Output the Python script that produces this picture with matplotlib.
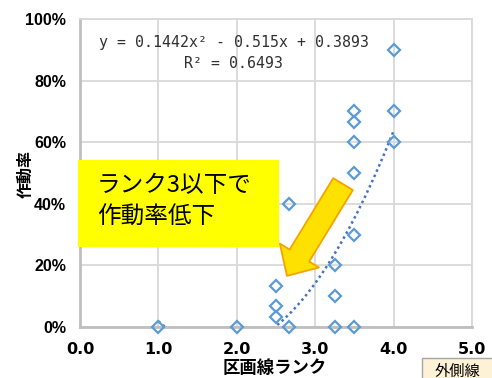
import matplotlib
matplotlib.use('Agg')
import matplotlib.pyplot as plt
import numpy as np
from matplotlib.patches import Rectangle
from matplotlib.ticker import FuncFormatter

# 区画線ランク vs 作動率
rank = [1.0, 2.0, 2.5, 2.5, 2.5, 2.67, 2.67, 3.25, 3.25, 3.25,
        3.5, 3.5, 3.5, 3.5, 3.5, 3.5, 4.0, 4.0, 4.0]
rate = [0.0, 0.0, 0.033, 0.067, 0.133, 0.0, 0.40, 0.0, 0.10, 0.20,
        0.0, 0.30, 0.50, 0.60, 0.667, 0.70, 0.60, 0.70, 0.90]

# Excel 2次近似
coef = [0.1442, -0.515, 0.3893]
r2 = 0.6493

xticks = [0, 1, 2, 3, 4, 5]
yticks = [0, 0.2, 0.4, 0.6, 0.8, 1.0]

jp = ['Noto Sans CJK JP', 'DejaVu Sans']

W, H = 492, 378
fig = plt.figure(figsize=(W / 100, H / 100), dpi=100)
ax = fig.add_axes([80 / W, 1 - 327 / H, (472 - 80) / W, (327 - 19) / H])

ax.set_xlim(0, 5)
ax.set_ylim(0, 1)
ax.set_xticks(xticks)
ax.set_yticks(yticks)
ax.xaxis.set_major_formatter(FuncFormatter(lambda v, p: '%.1f' % v))
ax.yaxis.set_major_formatter(FuncFormatter(lambda v, p: '%d%%' % round(v * 100)))
ax.tick_params(length=0)
ax.tick_params(axis='x', pad=11)
ax.tick_params(axis='y', pad=10)
for lab in ax.get_xticklabels():
    lab.set_fontweight('bold')
    lab.set_fontsize(11.5)
for lab in ax.get_yticklabels():
    lab.set_fontweight('bold')
    lab.set_fontsize(11.5)
    lab.set_family('Liberation Sans')

ax.grid(True, color='#D9D9D9', lw=1.3)
ax.set_axisbelow(True)
for s in ['top', 'right']:
    ax.spines[s].set_color('#D9D9D9')
    ax.spines[s].set_linewidth(1.3)
for s in ['left', 'bottom']:
    ax.spines[s].set_color('#BFBFBF')
    ax.spines[s].set_linewidth(2)

# 近似曲線 (データ範囲)
xs = np.linspace(min(rank), max(rank), 200)
ax.plot(xs, np.polyval(coef, xs), color='#4472C4', lw=1.8,
        linestyle=(0, (1, 1.3)), zorder=2)

ax.plot(rank, rate, linestyle='none', marker='D', ms=6.6, mfc='none',
        mec='#5B9BD5', mew=1.6, zorder=3, clip_on=False)

eq = 'y = %.4fx² - %.3fx + %.4f' % (coef[0], -coef[1], coef[2])
fig.text(234 / W, 1 - 42 / H, eq, ha='center', va='center',
         family='DejaVu Sans Mono', fontsize=10.7, color='#303030')
fig.text(234 / W, 1 - 63 / H, 'R² = %.4f' % r2, ha='center', va='center',
         family='DejaVu Sans Mono', fontsize=10.7, color='#303030')

ax.set_xlabel('区画線ランク', family=jp, fontweight='bold', fontsize=12.5)
ax.xaxis.set_label_coords(275 / W, 1 - 359 / H, transform=fig.transFigure)
ax.set_ylabel('作動率', family=jp, fontweight='bold', fontsize=11.5)
ax.yaxis.set_label_coords(34 / W, 1 - 174 / H, transform=fig.transFigure)

# 注記ボックス
fig.patches.append(Rectangle((78 / W, 1 - 247 / H), (279 - 78) / W, (247 - 160) / H,
                             transform=fig.transFigure, fc='#FFFF00', ec='none', zorder=5))
fig.text(97 / W, 1 - 186 / H, 'ランク3以下で', family=jp, fontsize=17,
         va='center', ha='left', zorder=6)
fig.text(97 / W, 1 - 217 / H, '作動率低下', family=jp, fontsize=17,
         va='center', ha='left', zorder=6)

ax.annotate('', xy=(2.64, 0.166), xytext=(3.355, 0.464),
            arrowprops=dict(arrowstyle='simple,head_length=0.52,head_width=1.0,tail_width=0.5',
                            mutation_scale=33, fc='#FFE100', ec='#F5A300', lw=1.3,
                            shrinkA=0, shrinkB=0),
            annotation_clip=False, zorder=6)

# 凡例の一部
fig.patches.append(Rectangle((422 / W, 1 - 385 / H), 80 / W, 27 / H,
                             transform=fig.transFigure, fc='#FDF1D6', ec='#A6A6A6',
                             lw=1, zorder=5))
fig.text(457 / W, 1 - 371 / H, '外側線', family=jp, fontsize=11,
         ha='center', va='center', zorder=6)

fig.savefig('out.png', dpi=100)
